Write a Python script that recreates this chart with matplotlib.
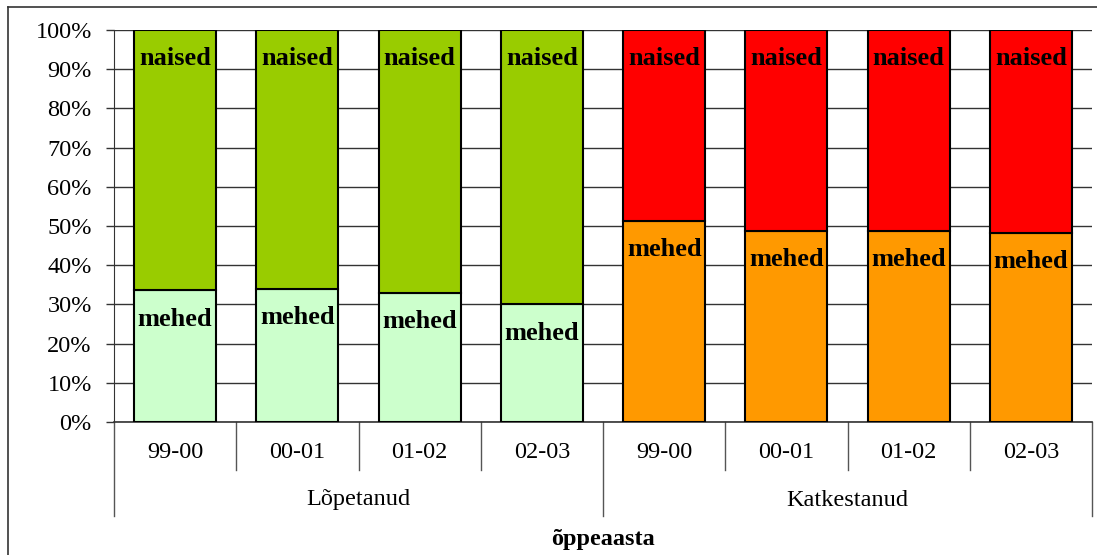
import numpy as np
import matplotlib.pyplot as plt
from matplotlib.lines import Line2D

# andmed
aastad = ['99-00', '00-01', '01-02', '02-03']
grupid = ['Lõpetanud', 'Katkestanud']
mehed_lopetanud = [33.6, 34.0, 33.0, 30.0]
mehed_katkestanud = [51.4, 48.8, 48.8, 48.3]
mehed = mehed_lopetanud + mehed_katkestanud
naised = [100 - m for m in mehed]

col_mehed = ['#CCFFCC'] * 4 + ['#FF9900'] * 4
col_naised = ['#99CC00'] * 4 + ['#FF0000'] * 4

plt.rcParams['font.family'] = ['Liberation Serif', 'DejaVu Serif']

W, H = 1097, 555
fig = plt.figure(figsize=(W / 100, H / 100), dpi=100)
ax = fig.add_axes([114 / W, (H - 422) / H, 978 / W, 392 / H])

x = np.arange(8) + 0.5
ax.bar(x, mehed, width=0.67, color=col_mehed, edgecolor='black', linewidth=1.5, zorder=3)
ax.bar(x, naised, width=0.67, bottom=mehed, color=col_naised, edgecolor='black', linewidth=1.5, zorder=3)

for xi, m in zip(x, mehed):
    ax.annotate('naised', (xi, 100), xytext=(0, -20.5), textcoords='offset points',
                ha='center', va='center', fontsize=19, fontweight='bold', zorder=4)
    ax.annotate('mehed', (xi, m), xytext=(0, -21), textcoords='offset points',
                ha='center', va='center', fontsize=19, fontweight='bold', zorder=4)

ax.set_xlim(0, 8)
ax.set_ylim(0, 100)
ax.set_yticks(np.arange(0, 101, 10))
ax.set_yticklabels([f'{v}%' for v in range(0, 101, 10)], fontsize=17.5)
ax.set_xticks([])
ax.yaxis.grid(True, color='#333333', linewidth=1, zorder=0)
ax.tick_params(axis='y', length=6, width=1, color='#333333', pad=10)
for s in ['top', 'right']:
    ax.spines[s].set_visible(False)
ax.spines['left'].set_color('#333333')
ax.spines['bottom'].set_color('#333333')
ax.spines['bottom'].set_linewidth(1.2)

tr = ax.get_xaxis_transform()
px = 1 / 392  # üks piksel telje kõrguses
for i, a in enumerate(aastad * 2):
    ax.text(i + 0.5, -31 * px, a, transform=tr, ha='center', va='center', fontsize=17.5)
for i in range(9):
    low = -94 * px if i % 4 == 0 else -48 * px
    ax.add_line(Line2D([i, i], [0, low], transform=tr, color='#555555', lw=1, clip_on=False))
for j, g in enumerate(grupid):
    ax.text(j * 4 + 2, -78 * px, g, transform=tr, ha='center', va='center', fontsize=17.5)
ax.text(4, -118 * px, 'õppeaasta', transform=tr, ha='center', va='center',
        fontsize=17.5, fontweight='bold')

# välimine raam
fig.add_artist(Line2D([8 / W, 8 / W], [0, 1 - 7 / H], color='#333333', lw=1.2))
fig.add_artist(Line2D([8 / W, 1], [1 - 7 / H, 1 - 7 / H], color='#333333', lw=1.2))

fig.savefig('out.png', dpi=100)
